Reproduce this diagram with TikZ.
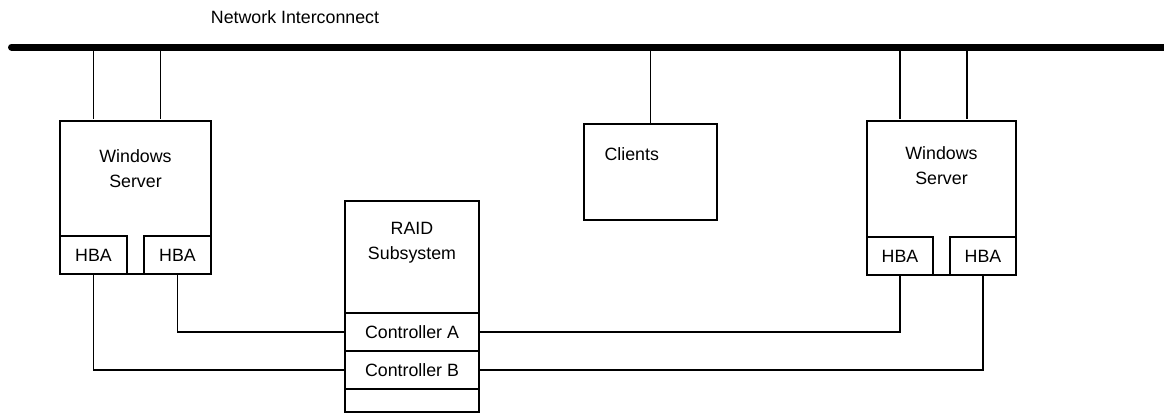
\documentclass[tikz,border=0pt]{standalone}
\usepackage{fontspec}
\setmainfont{Liberation Sans}
\usepackage{tikz}
\usetikzlibrary{positioning, calc}

\begin{document}
\begin{tikzpicture}[x=1pt, y=-1pt,
	every node/.style={font=\fontsize{17.8}{25}\selectfont},
	box/.style={draw, line width=1.2pt, outer sep=0pt, inner sep=0pt},
	port/.style={box, minimum width=67pt, minimum height=38pt},
	ctl/.style={box, minimum width=134pt, minimum height=38pt},
	link/.style={line width=1.2pt},
	bus/.style={line width=7pt, line cap=round}]
	\useasboundingbox (0,0) rectangle (1164,413);

	% network interconnect
	\node (title) at (295,17) {Network Interconnect};
	\coordinate (busL) at (11.5,47);
	\coordinate (busR) at (1175,47);
	\draw[bus] (busL) -- (busR);

	% servers
	\node[box, minimum width=151pt, minimum height=153pt,
		label={[anchor=center, align=center, yshift=-48pt]north:Windows\\Server}] (srvL) at (135.5,197.5) {};
	\node[box, minimum width=149pt, minimum height=154pt,
		label={[anchor=center, align=center, yshift=-45pt]north:Windows\\Server}] (srvR) at (941.5,198) {};

	% host bus adapters
	\node[port, above right=0pt and 0pt of srvL.south west] (hbaL1) {HBA};
	\node[port, above left=0pt and 0pt of srvL.south east] (hbaL2) {HBA};
	\node[port, minimum width=66pt, above right=0pt and 0pt of srvR.south west] (hbaR1) {HBA};
	\node[port, minimum width=66pt, above left=0pt and 0pt of srvR.south east] (hbaR2) {HBA};

	% clients
	\node[box, minimum width=133pt, minimum height=96pt,
		label={[anchor=west, xshift=17pt, yshift=-30pt]north west:Clients}] (clients) at (650.5,172) {};

	% raid subsystem
	\node[box, minimum width=134pt, minimum height=211pt,
		label={[anchor=center, align=center, yshift=-42pt]north:RAID\\Subsystem}] (raid) at (412,306.5) {};
	\node[ctl, above right=23pt and 0pt of raid.south west] (ctlB) {Controller B};
	\node[ctl, above=0pt of ctlB] (ctlA) {Controller A};

	% uplinks to the interconnect
	\foreach \s/\h in {srvL/hbaL1, srvR/hbaR1} {
		\draw[link, shorten >=2.5pt] (\h |- busL) -- (\h |- \s.north);
		\draw[link, shorten >=2.5pt] ([xshift=67pt]\h |- busL) -- ([xshift=67pt]\h |- \s.north);
	}
	\draw[link] (clients |- busL) -- (clients.north);

	% storage links
	\draw[link] (hbaL2.south) |- (ctlA.west);
	\draw[link] (hbaL1.south) |- (ctlB.west);
	\draw[link] (hbaR1.south) |- (ctlA.east);
	\draw[link] (hbaR2.south) |- (ctlB.east);
\end{tikzpicture}
\end{document}
